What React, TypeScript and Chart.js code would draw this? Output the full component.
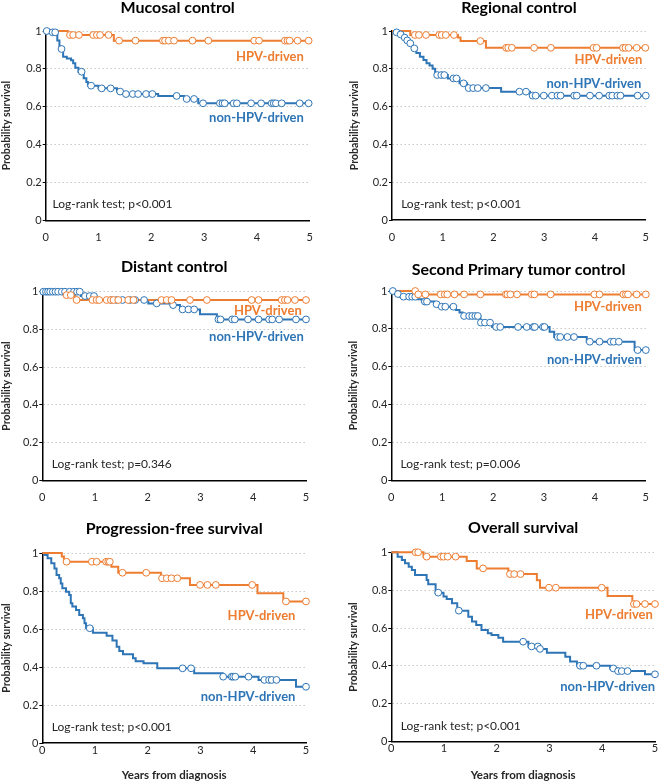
import React, { useEffect, useRef } from "react";
import { Chart, registerables } from "chart.js";

Chart.register(...registerables);

const FAMILY = "Lato, 'Open Sans', sans-serif";
const ORANGE = "#ED7D31";
const BLUE = "#2E75B6";
const TEXT = "#262626";

const xTickValues = [0, 1, 2, 3, 4, 5];
const yTickValues = [0, 0.2, 0.4, 0.6, 0.8, 1];

const panelTitles = [
  "Mucosal control",
  "Regional control",
  "Distant control",
  "Second Primary tumor control",
  "Progression-free survival",
  "Overall survival",
];
const logRankLabels = [
  "Log-rank test; p<0.001",
  "Log-rank test; p<0.001",
  "Log-rank test; p=0.346",
  "Log-rank test; p=0.006",
  "Log-rank test; p<0.001",
  "Log-rank test; p<0.001",
];
const hpvLabel = "HPV-driven";
const nonHpvLabel = "non-HPV-driven";
const yAxisTitle = "Probability survival";
const xAxisTitle = "Years from diagnosis";

// ---- Mucosal control ----
const mucosalHpvTimes = [0, 0.42, 1.29, 5];
const mucosalHpvSurv = [1, 0.979, 0.949, 0.949];
const mucosalHpvCensored = [0.46, 0.52, 0.63, 0.9, 0.97, 1.03, 1.19, 1.39, 1.7, 2.22, 2.26, 2.33, 2.43, 2.78, 3.08, 3.95, 4.04, 4.53, 4.58, 4.62, 4.77, 4.98];
const mucosalNonTimes = [0, 0.08, 0.22, 0.26, 0.29, 0.33, 0.4, 0.48, 0.52, 0.56, 0.62, 0.72, 0.77, 0.8, 1.0, 1.35, 1.47, 2.13, 2.62, 2.89, 5];
const mucosalNonSurv = [1, 0.993, 0.95, 0.92, 0.905, 0.864, 0.855, 0.845, 0.829, 0.806, 0.785, 0.75, 0.73, 0.711, 0.697, 0.68, 0.667, 0.657, 0.641, 0.618, 0.618];
const mucosalNonCensored = [0.02, 0.13, 0.18, 0.3, 0.68, 0.86, 1.06, 1.23, 1.41, 1.52, 1.65, 1.75, 1.9, 2.02, 2.48, 2.67, 2.81, 2.98, 3.3, 3.35, 3.39, 3.56, 3.62, 3.89, 4.08, 4.28, 4.32, 4.36, 4.47, 4.81, 4.98];

// ---- Regional control ----
const regionalHpvTimes = [0, 0.36, 1.3, 1.35, 1.85, 5];
const regionalHpvSurv = [1, 0.979, 0.965, 0.947, 0.911, 0.911];
const regionalHpvCensored = [0.45, 0.53, 0.67, 0.93, 0.98, 1.06, 1.22, 1.74, 2.25, 2.29, 2.36, 2.8, 3.13, 3.97, 4.03, 4.55, 4.6, 4.66, 4.82, 4.99];
const regionalNonTimes = [0, 0.05, 0.12, 0.2, 0.27, 0.33, 0.4, 0.48, 0.55, 0.62, 0.68, 0.74, 0.8, 0.85, 1.1, 1.33, 1.48, 2.15, 2.72, 5];
const regionalNonSurv = [1, 0.993, 0.982, 0.965, 0.95, 0.935, 0.908, 0.884, 0.864, 0.847, 0.83, 0.817, 0.8, 0.767, 0.749, 0.723, 0.698, 0.679, 0.658, 0.658];
const regionalNonCensored = [0.09, 0.17, 0.25, 0.3, 0.36, 0.44, 0.89, 0.97, 1.03, 1.21, 1.27, 1.41, 1.51, 1.6, 1.69, 1.85, 2.51, 2.64, 2.77, 2.83, 2.99, 3.15, 3.26, 3.32, 3.59, 3.64, 3.9, 4.08, 4.28, 4.34, 4.44, 4.5, 4.84, 5.0];

// ---- Distant control ----
const distantHpvTimes = [0, 0.43, 0.62, 5];
const distantHpvSurv = [1, 0.982, 0.956, 0.956];
const distantHpvCensored = [0.46, 0.54, 0.65, 0.95, 1.03, 1.08, 1.22, 1.3, 1.35, 1.44, 1.63, 1.73, 2.26, 2.36, 2.45, 2.8, 3.12, 3.97, 4.1, 4.54, 4.6, 4.65, 4.79, 5.0];
const distantNonTimes = [0, 0.73, 1.02, 2.01, 2.45, 2.61, 2.99, 3.31, 5];
const distantNonSurv = [1, 0.977, 0.956, 0.938, 0.929, 0.906, 0.88, 0.853, 0.853];
const distantNonCensored = [0.02, 0.07, 0.11, 0.15, 0.2, 0.25, 0.3, 0.37, 0.43, 0.52, 0.6, 0.66, 0.71, 0.81, 0.9, 0.98, 1.31, 1.41, 1.52, 1.66, 1.76, 1.93, 2.17, 2.48, 2.66, 2.77, 2.88, 3.34, 3.38, 3.6, 3.65, 3.9, 4.1, 4.3, 4.36, 4.49, 4.81, 5.0];

// ---- Second primary tumor control ----
const secondHpvTimes = [0, 0.49, 5];
const secondHpvSurv = [1, 0.982, 0.982];
const secondHpvCensored = [0.47, 0.53, 0.67, 0.97, 1.05, 1.1, 1.24, 1.43, 1.75, 2.25, 2.28, 2.34, 2.47, 2.76, 2.81, 3.13, 3.99, 4.09, 4.56, 4.61, 4.65, 4.82, 5.0];
const secondNonTimes = [0, 0.07, 0.16, 0.51, 0.6, 0.85, 0.92, 1.27, 1.34, 1.4, 1.75, 1.98, 3.11, 3.2, 3.84, 4.78, 5];
const secondNonSurv = [1, 0.984, 0.97, 0.956, 0.944, 0.93, 0.917, 0.9, 0.886, 0.868, 0.833, 0.81, 0.785, 0.757, 0.732, 0.688, 0.688];
const secondNonCensored = [0.03, 0.13, 0.24, 0.35, 0.41, 0.47, 0.66, 0.7, 0.89, 0.99, 1.06, 1.22, 1.43, 1.53, 1.59, 1.65, 1.7, 1.76, 1.84, 1.94, 2.06, 2.14, 2.49, 2.66, 2.79, 2.82, 2.98, 3.01, 3.27, 3.32, 3.46, 3.59, 3.9, 4.09, 4.31, 4.37, 4.47, 4.84, 5.0];

// ---- Progression-free survival ----
const pfsHpvTimes = [0, 0.37, 0.41, 1.31, 1.44, 2.25, 2.8, 4.08, 4.57, 5];
const pfsHpvSurv = [1, 0.981, 0.954, 0.928, 0.896, 0.867, 0.832, 0.788, 0.745, 0.745];
const pfsHpvCensored = [0.46, 0.94, 1.03, 1.21, 1.25, 1.28, 1.52, 1.97, 2.27, 2.36, 2.45, 2.56, 2.99, 3.13, 3.29, 3.98, 4.62, 5.0];
const pfsNonTimes = [0, 0.04, 0.1, 0.17, 0.23, 0.27, 0.32, 0.35, 0.38, 0.45, 0.51, 0.54, 0.57, 0.64, 0.7, 0.77, 0.8, 0.83, 0.96, 1.22, 1.33, 1.41, 1.46, 1.53, 1.72, 1.77, 1.92, 2.18, 2.88, 3.42, 4.1, 4.81, 5];
const pfsNonSurv = [1, 0.989, 0.972, 0.946, 0.919, 0.884, 0.867, 0.84, 0.814, 0.796, 0.779, 0.735, 0.718, 0.7, 0.674, 0.656, 0.63, 0.604, 0.58, 0.565, 0.54, 0.507, 0.484, 0.467, 0.446, 0.43, 0.42, 0.393, 0.367, 0.349, 0.332, 0.296, 0.296];
const pfsNonCensored = [0.9, 2.66, 2.82, 3.43, 3.59, 3.62, 3.66, 3.91, 4.21, 4.3, 4.35, 4.44, 5.0];

// ---- Overall survival ----
const osHpvTimes = [0, 0.61, 1.43, 1.62, 2.22, 2.76, 2.82, 4.1, 4.57, 5];
const osHpvSurv = [1, 0.977, 0.954, 0.915, 0.885, 0.853, 0.813, 0.769, 0.727, 0.727];
const osHpvCensored = [0.46, 0.51, 0.67, 0.94, 0.99, 1.07, 1.22, 1.74, 2.25, 2.33, 2.45, 2.99, 3.12, 3.99, 4.6, 4.65, 4.81, 5.0];
const osNonTimes = [0, 0.12, 0.2, 0.26, 0.33, 0.39, 0.45, 0.67, 0.7, 0.84, 0.99, 1.05, 1.15, 1.25, 1.46, 1.53, 1.61, 1.71, 1.83, 1.9, 2.03, 2.12, 2.6, 2.8, 2.95, 3.3, 3.39, 3.52, 4.15, 4.29, 4.81, 5];
const osNonSurv = [1, 0.977, 0.96, 0.942, 0.924, 0.907, 0.88, 0.854, 0.831, 0.787, 0.766, 0.753, 0.731, 0.692, 0.66, 0.634, 0.616, 0.59, 0.572, 0.563, 0.549, 0.528, 0.503, 0.49, 0.47, 0.449, 0.423, 0.401, 0.387, 0.373, 0.356, 0.356];
const osNonCensored = [0.89, 1.28, 2.5, 2.66, 2.78, 2.82, 3.58, 3.64, 3.89, 4.21, 4.3, 4.37, 4.48, 5.0];

type Curve = { times: number[]; surv: number[]; censored: number[] };

const panelData: { hpv: Curve; non: Curve }[] = [
  { hpv: { times: mucosalHpvTimes, surv: mucosalHpvSurv, censored: mucosalHpvCensored }, non: { times: mucosalNonTimes, surv: mucosalNonSurv, censored: mucosalNonCensored } },
  { hpv: { times: regionalHpvTimes, surv: regionalHpvSurv, censored: regionalHpvCensored }, non: { times: regionalNonTimes, surv: regionalNonSurv, censored: regionalNonCensored } },
  { hpv: { times: distantHpvTimes, surv: distantHpvSurv, censored: distantHpvCensored }, non: { times: distantNonTimes, surv: distantNonSurv, censored: distantNonCensored } },
  { hpv: { times: secondHpvTimes, surv: secondHpvSurv, censored: secondHpvCensored }, non: { times: secondNonTimes, surv: secondNonSurv, censored: secondNonCensored } },
  { hpv: { times: pfsHpvTimes, surv: pfsHpvSurv, censored: pfsHpvCensored }, non: { times: pfsNonTimes, surv: pfsNonSurv, censored: pfsNonCensored } },
  { hpv: { times: osHpvTimes, surv: osHpvSurv, censored: osHpvCensored }, non: { times: osNonTimes, surv: osNonSurv, censored: osNonCensored } },
];

// layout (pixel positions, local to each panel canvas) and label anchors (data units)
type Layout = {
  x: number; y: number; h: number;
  left: number; right: number; top: number; bottom: number;
  yTitleX: number; xTickPad: number; xTitle: boolean; titleY: number;
  hpvAt: [number, number]; nonAt: [number, number]; logAt: [number, number];
};
const layouts: Layout[] = [
  { x: 0, y: 0, h: 260, left: 45.7, right: 309.7, top: 31, bottom: 220.3, yTitleX: 6.7, xTickPad: 11, xTitle: false, titleY: 8, hpvAt: [4.89, 0.863], nonAt: [4.89, 0.54], logAt: [0.13, 0.086] },
  { x: 330, y: 0, h: 260, left: 62, right: 326.7, top: 31, bottom: 220, yTitleX: 25, xTickPad: 11, xTitle: false, titleY: 7.5, hpvAt: [4.93, 0.847], nonAt: [4.91, 0.723], logAt: [0.18, 0.085] },
  { x: 0, y: 260, h: 260, left: 42.3, right: 306, top: 31.7, bottom: 220.3, yTitleX: 5, xTickPad: 11, xTitle: false, titleY: 7, hpvAt: [4.92, 0.899], nonAt: [4.96, 0.761], logAt: [0.18, 0.086] },
  { x: 330, y: 260, h: 260, left: 61.3, right: 324.7, top: 31, bottom: 220.3, yTitleX: 24, xTickPad: 11, xTitle: false, titleY: 10, hpvAt: [4.92, 0.917], nonAt: [4.92, 0.639], logAt: [0.18, 0.086] },
  { x: 0, y: 520, h: 262, left: 42.3, right: 306, top: 33, bottom: 223, yTitleX: 5, xTickPad: 0.5, xTitle: true, titleY: 8.5, hpvAt: [4.8, 0.67], nonAt: [4.8, 0.244], logAt: [0.18, 0.083] },
  { x: 330, y: 520, h: 262, left: 61.3, right: 325, top: 32.3, bottom: 221.7, yTitleX: 24, xTickPad: 0.5, xTitle: true, titleY: 8, hpvAt: [4.96, 0.669], nonAt: [5.0, 0.29], logAt: [0.18, 0.083] },
];

function survivalAt(c: Curve, t: number): number {
  let v = c.surv[0];
  for (let i = 0; i < c.times.length; i++) if (c.times[i] <= t) v = c.surv[i];
  return v;
}

const PANEL_W = 330;
const Y_TITLE_SIZE = 10.5;

function Panel({ index }: { index: number }) {
  const ref = useRef<HTMLCanvasElement>(null);
  const L = layouts[index];
  useEffect(() => {
    const canvas = ref.current;
    if (!canvas) return;
    const d = panelData[index];
    const stepPts = (c: Curve) => c.times.map((t, i) => ({ x: t, y: c.surv[i] }));
    const censorPts = (c: Curve) => c.censored.map((t) => ({ x: t, y: survivalAt(c, t) }));
    const padLeft = Math.max(0, L.yTitleX - (Y_TITLE_SIZE * 1.2) / 2);

    const annot = {
      id: "annot" + index,
      afterDraw(chart: any) {
        const { ctx, chartArea, scales } = chart;
        const xs = scales.x;
        const ys = scales.y;
        ctx.save();
        ctx.textBaseline = "middle";
        ctx.fillStyle = "#000";
        ctx.font = `bold 16px ${FAMILY}`;
        ctx.textAlign = "center";
        ctx.fillText(panelTitles[index], (chartArea.left + chartArea.right) / 2, L.titleY);
        ctx.font = `bold 13px ${FAMILY}`;
        ctx.textAlign = "right";
        ctx.fillStyle = ORANGE;
        ctx.fillText(hpvLabel, xs.getPixelForValue(L.hpvAt[0]), ys.getPixelForValue(L.hpvAt[1]));
        ctx.fillStyle = BLUE;
        ctx.fillText(nonHpvLabel, xs.getPixelForValue(L.nonAt[0]), ys.getPixelForValue(L.nonAt[1]));
        ctx.font = `12px ${FAMILY}`;
        ctx.textAlign = "left";
        ctx.fillStyle = TEXT;
        ctx.fillText(logRankLabels[index], xs.getPixelForValue(L.logAt[0]), ys.getPixelForValue(L.logAt[1]));
        ctx.restore();
      },
    };

    const censorDs = (c: Curve, color: string) => ({
      type: "line" as const,
      data: censorPts(c),
      showLine: false,
      pointRadius: 3.4,
      pointBackgroundColor: "#ffffff",
      pointBorderColor: color,
      pointBorderWidth: 1,
      clip: false as any,
    });
    const lineDs = (c: Curve, color: string) => ({
      type: "line" as const,
      data: stepPts(c),
      stepped: "before" as const,
      borderColor: color,
      borderWidth: 2,
      pointRadius: 0,
      fill: false,
      clip: false as any,
    });

    const chart = new Chart(canvas, {
      type: "line",
      data: {
        datasets: [
          censorDs(d.hpv, ORANGE),
          censorDs(d.non, BLUE),
          lineDs(d.hpv, ORANGE),
          lineDs(d.non, BLUE),
        ] as any,
      },
      options: {
        responsive: false,
        animation: false,
        events: [],
        layout: { padding: { left: padLeft, right: PANEL_W - L.right, top: L.top, bottom: 0 } },
        plugins: { legend: { display: false }, tooltip: { enabled: false }, title: { display: false } },
        scales: {
          x: {
            type: "linear",
            min: 0,
            max: 5,
            afterBuildTicks: (s: any) => { s.ticks = xTickValues.map((v) => ({ value: v })); },
            ticks: { font: { size: 11, family: FAMILY }, color: TEXT, padding: L.xTickPad, maxRotation: 0, autoSkip: false, callback: (v: any) => String(v) },
            grid: { display: false, drawTicks: false },
            border: { display: true, color: "#000", width: 1.5 },
            title: { display: L.xTitle, text: xAxisTitle, font: { size: 11.5, weight: "bold", family: FAMILY }, color: TEXT, padding: 0 },
            afterFit: (s: any) => { s.height = L.h - L.bottom; },
          },
          y: {
            type: "linear",
            min: 0,
            max: 1,
            afterBuildTicks: (s: any) => { s.ticks = yTickValues.map((v) => ({ value: v })); },
            ticks: { font: { size: 11, family: FAMILY }, color: TEXT, padding: 1, callback: (v: any) => String(v) },
            grid: {
              color: (c: any) => (c.tick && c.tick.value === 0 ? "rgba(0,0,0,0)" : "#C8C8C8"),
              lineWidth: 1,
              drawTicks: true,
              tickLength: 3,
              tickColor: "#000",
              tickWidth: 1,
            },
            border: { display: true, color: "#000", width: 1.5, dash: [1.5, 2.5] },
            title: { display: true, text: yAxisTitle, font: { size: Y_TITLE_SIZE, weight: "bold", family: FAMILY }, color: TEXT, padding: 0 },
            afterFit: (s: any) => { s.width = L.left - padLeft; },
          },
        },
      } as any,
      plugins: [annot],
    });
    return () => chart.destroy();
  }, [index]);
  return (
    <canvas
      ref={ref}
      width={PANEL_W}
      height={L.h}
      style={{ position: "absolute", left: L.x, top: L.y, width: PANEL_W, height: L.h }}
    />
  );
}

export default function App() {
  return (
    <div style={{ position: "absolute", left: 0, top: 0, width: 660, height: 782, background: "#fff" }}>
      {layouts.map((_, i) => (
        <Panel key={i} index={i} />
      ))}
    </div>
  );
}
